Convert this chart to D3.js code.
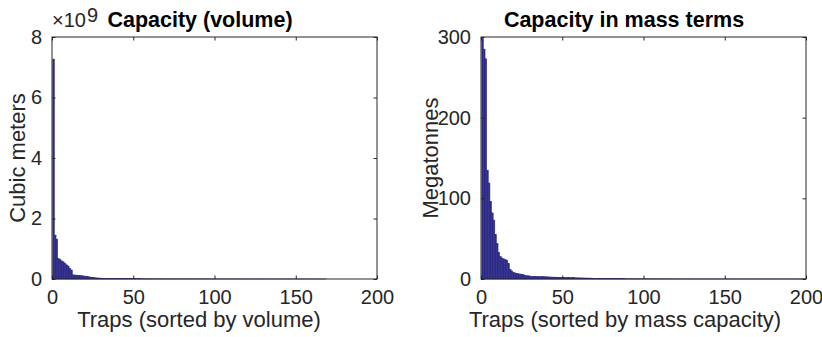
<!DOCTYPE html>
<html lang="en">
  <head>
    <meta charset="UTF-8" />
    <title>Trap capacity</title>
    <script src="https://d3js.org/d3.v7.min.js"></script>
    <style>
      body { margin: 0; background: #fff; }
      text { font-family: "Liberation Sans", Arial, Helvetica, sans-serif; }
      .tick-label { font-size: 20px; fill: #262626; }
      .axis-label { font-size: 22px; fill: #262626; }
      .title { font-size: 21.5px; font-weight: bold; fill: #000; }
    </style>
  </head>
  <body>
    <svg id="chart" width="822" height="337"></svg>

    <script>
      // Volume per trap, in units of 1e9 cubic meters (sorted, descending)
      const volumeValues = [
        7.27, 1.45, 1.32, 0.68, 0.64, 0.6, 0.57, 0.52, 0.47, 0.43,
        0.36, 0.3, 0.14, 0.13, 0.13, 0.12, 0.12, 0.11, 0.1, 0.1,
        0.09, 0.08, 0.07, 0.06, 0.05, 0.045, 0.04, 0.035, 0.03, 0.03,
        0.025, 0.02, 0.02, 0.02, 0.018,
        0.016, 0.015, 0.015, 0.014, 0.014, 0.013, 0.013, 0.012, 0.012, 0.011,
        0.011, 0.011, 0.01, 0.01, 0.01, 0.009, 0.009, 0.009, 0.009, 0.008,
        0.008, 0.008, 0.008, 0.007, 0.007, 0.007, 0.007, 0.007, 0.006, 0.006,
        0.006, 0.006, 0.006, 0.006, 0.005, 0.005, 0.005, 0.005, 0.005, 0.005,
        0.005, 0.004, 0.004, 0.004, 0.004, 0.004, 0.004, 0.004, 0.004, 0.004,
        0.0035, 0.0035, 0.0035, 0.0035, 0.0035, 0.0035, 0.0035, 0.0035, 0.0035, 0.0035,
        0.0035, 0.0035, 0.0035, 0.0035, 0.0035, 0.003, 0.003, 0.003, 0.003, 0.003,
        0.003, 0.003, 0.003, 0.003, 0.003, 0.003, 0.003, 0.003, 0.003, 0.003,
        0.0025, 0.0025, 0.0025, 0.0025, 0.0025, 0.0025, 0.0025, 0.0025, 0.0025, 0.0025,
        0.0025, 0.0025, 0.0025, 0.0025, 0.0025, 0.002, 0.002, 0.002, 0.002, 0.002,
        0.002, 0.002, 0.002, 0.002, 0.002, 0.002, 0.002, 0.002, 0.002, 0.002,
        0.0015, 0.0015, 0.0015, 0.0015, 0.0015, 0.0015, 0.0015, 0.0015, 0.0015, 0.0015,
        0.0015, 0.0015, 0.0015, 0.001, 0.001, 0.001, 0.001, 0.001, 0.001, 0.001,
        0.001, 0.001, 0.001
      ];

      // Mass capacity per trap, megatonnes (sorted, descending)
      const massValues = [
        298, 285, 273, 135, 119, 96, 82, 73, 55, 44,
        33, 28, 26, 25, 24, 23, 19, 12, 10, 8.5,
        7.5, 7, 6.5, 6.2, 5.8, 5.5, 4.5, 4.2, 4, 3.8,
        3.3, 3.2, 3.1, 3, 3, 2.9, 2.9, 2.8, 2.8, 2.7, 2.7, 2.6,
        2.4, 2.4, 2.3, 2.3, 2.2, 2.2, 2.1, 2.1, 2, 2, 1.9, 1.9, 1.8,
        1.6, 1.6, 1.5, 1.5, 1.4, 1.4, 1.3, 1.3, 1.2, 1.2, 1.2, 1.1, 1.1,
        0.6, 0.58, 0.56, 0.54, 0.52, 0.5, 0.48, 0.46, 0.44, 0.42,
        0.4, 0.39, 0.38, 0.37, 0.36, 0.35, 0.34, 0.33, 0.32, 0.31,
        0.3, 0.29, 0.28, 0.27, 0.26, 0.25, 0.25, 0.24, 0.24, 0.23,
        0.23, 0.22, 0.22, 0.21, 0.21, 0.2, 0.2, 0.19, 0.19, 0.18,
        0.18, 0.17, 0.17, 0.16, 0.16, 0.15, 0.15, 0.15, 0.14, 0.14,
        0.14, 0.13, 0.13, 0.13, 0.12, 0.12, 0.12, 0.11, 0.11, 0.11,
        0.1, 0.1, 0.1, 0.1, 0.1, 0.1, 0.1, 0.1, 0.1, 0.1,
        0.09, 0.09, 0.09, 0.09, 0.09, 0.09, 0.09, 0.09, 0.09, 0.09,
        0.08, 0.08, 0.08, 0.08, 0.08, 0.08, 0.08, 0.08, 0.08, 0.08,
        0.07, 0.07, 0.07, 0.07, 0.07, 0.07, 0.07, 0.07, 0.07, 0.07,
        0.06, 0.06, 0.06, 0.06, 0.06, 0.06, 0.06, 0.06, 0.06, 0.06,
        0.05, 0.05, 0.05, 0.05, 0.05, 0.05, 0.05, 0.05, 0.05, 0.05,
        0.04, 0.04, 0.04, 0.04, 0.04, 0.04, 0.04, 0.04, 0.04, 0.04, 0.04
      ];

      const xTicks = [0, 50, 100, 150, 200];
      const volumeTicks = [0, 2, 4, 6, 8];
      const massTicks = [0, 100, 200, 300];

      const barColor = "#2d2a86";
      const axisColor = "#262626";
      const svg = d3.select("#chart");

      const panels = [
        {
          left: 52, right: 377, top: 37, bottom: 279,
          values: volumeValues, yMax: 8, yTicks: volumeTicks,
          title: "Capacity (volume)", titleX: 200,
          xLabel: "Traps (sorted by volume)", xLabelX: 199,
          yLabel: "Cubic meters", yLabelX: 25, exponent: "9"
        },
        {
          left: 481, right: 806, top: 37, bottom: 279,
          values: massValues, yMax: 300, yTicks: massTicks,
          title: "Capacity in mass terms", titleX: 624,
          xLabel: "Traps (sorted by mass capacity)", xLabelX: 625,
          yLabel: "Megatonnes", yLabelX: 438
        }
      ];

      panels.forEach(function (p) {
        const x = d3.scaleLinear().domain([0, 200]).range([p.left, p.right]);
        const y = d3.scaleLinear().domain([0, p.yMax]).range([p.bottom, p.top]);
        const g = svg.append("g");
        const bw = x(1) - x(0);

        // bars, centred on 1..N
        g.selectAll("rect.bar")
          .data(p.values)
          .enter()
          .append("rect")
          .attr("class", "bar")
          .attr("x", (d, i) => x(i + 0.5))
          .attr("y", (d) => y(d))
          .attr("width", bw)
          .attr("height", (d) => y(0) - y(d))
          .attr("fill", barColor)
          .attr("stroke", barColor)
          .attr("stroke-width", 0.5);

        // box
        g.append("rect")
          .attr("x", p.left)
          .attr("y", p.top)
          .attr("width", p.right - p.left)
          .attr("height", p.bottom - p.top)
          .attr("fill", "none")
          .attr("stroke", axisColor)
          .attr("stroke-width", 1);

        // axes with inward ticks (bottom/left labelled, top/right bare)
        const tickLen = 3.5;
        const bottomAxis = g.append("g")
          .attr("transform", `translate(0,${p.bottom})`)
          .call(d3.axisBottom(x).tickValues(xTicks).tickSizeInner(-tickLen).tickSizeOuter(0).tickPadding(11));
        const topAxis = g.append("g")
          .attr("transform", `translate(0,${p.top})`)
          .call(d3.axisTop(x).tickValues(xTicks).tickSizeInner(-tickLen).tickSizeOuter(0).tickFormat(""));
        const leftAxis = g.append("g")
          .attr("transform", `translate(${p.left},0)`)
          .call(d3.axisLeft(y).tickValues(p.yTicks).tickSizeInner(-tickLen).tickSizeOuter(0).tickPadding(10).tickFormat(d3.format("d")));
        const rightAxis = g.append("g")
          .attr("transform", `translate(${p.right},0)`)
          .call(d3.axisRight(y).tickValues(p.yTicks).tickSizeInner(-tickLen).tickSizeOuter(0).tickFormat(""));

        [bottomAxis, topAxis, leftAxis, rightAxis].forEach(function (a) {
          a.select(".domain").remove();
          a.selectAll(".tick line").attr("stroke", axisColor);
          a.selectAll(".tick text")
            .attr("class", "tick-label")
            .attr("font-family", null)
            .attr("font-size", null)
            .attr("fill", null);
        });
        bottomAxis.selectAll(".tick text").attr("dy", "0.72em");

        // labels
        g.append("text")
          .attr("class", "axis-label")
          .attr("x", p.xLabelX)
          .attr("y", 327)
          .attr("text-anchor", "middle")
          .text(p.xLabel);

        g.append("text")
          .attr("class", "axis-label")
          .attr("transform", `translate(${p.yLabelX},${(p.top + p.bottom) / 2}) rotate(-90)`)
          .attr("text-anchor", "middle")
          .text(p.yLabel);

        g.append("text")
          .attr("class", "title")
          .attr("x", p.titleX)
          .attr("y", 27)
          .attr("text-anchor", "middle")
          .text(p.title);

        if (p.exponent) {
          const ex = g.append("text")
            .attr("class", "tick-label")
            .attr("x", p.left)
            .attr("y", 27);
          ex.append("tspan").text("\u00d710");
          ex.append("tspan").attr("dy", -5).attr("dx", 1).text(p.exponent);
        }
      });
    </script>
  </body>
</html>
